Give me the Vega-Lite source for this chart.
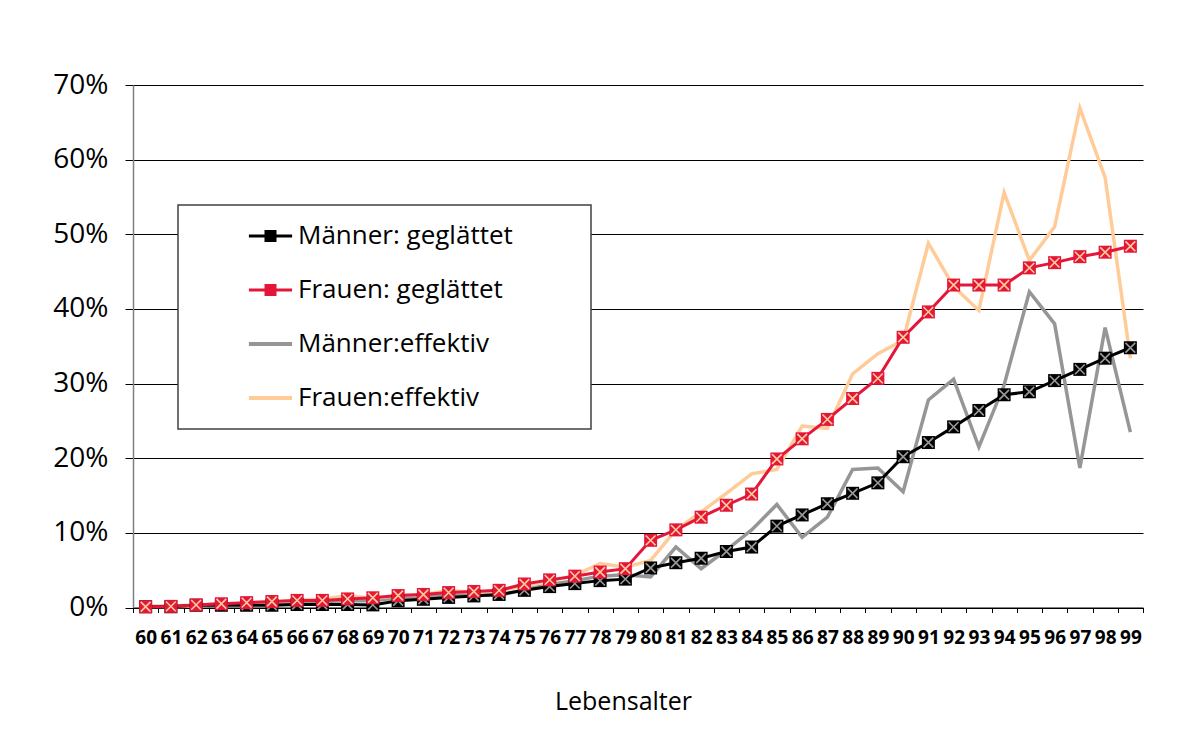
{
  "$schema": "https://vega.github.io/schema/vega-lite/v6.json",
  "width": 1010,
  "height": 522.5,
  "autosize": {"type": "none"},
  "padding": {"left": 133, "top": 85, "right": 51, "bottom": 133},
  "background": "white",
  "config": {
    "view": {"stroke": null},
    "font": "Open Sans"
  },
  "data": {
    "values": [
      {"Lebensalter": 60, "Männer: geglättet": 0.1, "Frauen: geglättet": 0.1, "Männer:effektiv": 0.1, "Frauen:effektiv": 0.2},
      {"Lebensalter": 61, "Männer: geglättet": 0.1, "Frauen: geglättet": 0.15, "Männer:effektiv": 0.2, "Frauen:effektiv": 0.1},
      {"Lebensalter": 62, "Männer: geglättet": 0.3, "Frauen: geglättet": 0.35, "Männer:effektiv": 0.3, "Frauen:effektiv": 0.2},
      {"Lebensalter": 63, "Männer: geglättet": 0.3, "Frauen: geglättet": 0.5, "Männer:effektiv": 0.5, "Frauen:effektiv": 0.4},
      {"Lebensalter": 64, "Männer: geglättet": 0.3, "Frauen: geglättet": 0.65, "Männer:effektiv": 0.5, "Frauen:effektiv": 0.6},
      {"Lebensalter": 65, "Männer: geglättet": 0.3, "Frauen: geglättet": 0.8, "Männer:effektiv": 0.6, "Frauen:effektiv": 0.7},
      {"Lebensalter": 66, "Männer: geglättet": 0.4, "Frauen: geglättet": 0.95, "Männer:effektiv": 0.6, "Frauen:effektiv": 1.0},
      {"Lebensalter": 67, "Männer: geglättet": 0.4, "Frauen: geglättet": 0.95, "Männer:effektiv": 0.8, "Frauen:effektiv": 1.1},
      {"Lebensalter": 68, "Männer: geglättet": 0.4, "Frauen: geglättet": 1.15, "Männer:effektiv": 0.9, "Frauen:effektiv": 1.6},
      {"Lebensalter": 69, "Männer: geglättet": 0.35, "Frauen: geglättet": 1.3, "Männer:effektiv": 0.9, "Frauen:effektiv": 1.2},
      {"Lebensalter": 70, "Männer: geglättet": 0.9, "Frauen: geglättet": 1.6, "Männer:effektiv": 1.3, "Frauen:effektiv": 1.6},
      {"Lebensalter": 71, "Männer: geglättet": 1.1, "Frauen: geglättet": 1.75, "Männer:effektiv": 1.4, "Frauen:effektiv": 1.7},
      {"Lebensalter": 72, "Männer: geglättet": 1.35, "Frauen: geglättet": 2.0, "Männer:effektiv": 1.6, "Frauen:effektiv": 2.3},
      {"Lebensalter": 73, "Männer: geglättet": 1.55, "Frauen: geglättet": 2.15, "Männer:effektiv": 1.7, "Frauen:effektiv": 2.0},
      {"Lebensalter": 74, "Männer: geglättet": 1.75, "Frauen: geglättet": 2.3, "Männer:effektiv": 1.6, "Frauen:effektiv": 2.2},
      {"Lebensalter": 75, "Männer: geglättet": 2.3, "Frauen: geglättet": 3.15, "Männer:effektiv": 2.4, "Frauen:effektiv": 2.9},
      {"Lebensalter": 76, "Männer: geglättet": 2.8, "Frauen: geglättet": 3.7, "Männer:effektiv": 3.1, "Frauen:effektiv": 3.5},
      {"Lebensalter": 77, "Männer: geglättet": 3.2, "Frauen: geglättet": 4.2, "Männer:effektiv": 3.6, "Frauen:effektiv": 4.3},
      {"Lebensalter": 78, "Männer: geglättet": 3.6, "Frauen: geglättet": 4.75, "Männer:effektiv": 4.2, "Frauen:effektiv": 5.9},
      {"Lebensalter": 79, "Männer: geglättet": 3.8, "Frauen: geglättet": 5.2, "Männer:effektiv": 4.4, "Frauen:effektiv": 5.4},
      {"Lebensalter": 80, "Männer: geglättet": 5.3, "Frauen: geglättet": 9.0, "Männer:effektiv": 4.1, "Frauen:effektiv": 6.3},
      {"Lebensalter": 81, "Männer: geglättet": 6.0, "Frauen: geglättet": 10.4, "Männer:effektiv": 8.1, "Frauen:effektiv": 10.4},
      {"Lebensalter": 82, "Männer: geglättet": 6.6, "Frauen: geglättet": 12.1, "Männer:effektiv": 5.2, "Frauen:effektiv": 12.8},
      {"Lebensalter": 83, "Männer: geglättet": 7.5, "Frauen: geglättet": 13.7, "Männer:effektiv": 7.7, "Frauen:effektiv": 15.3},
      {"Lebensalter": 84, "Männer: geglättet": 8.1, "Frauen: geglättet": 15.2, "Männer:effektiv": 10.4, "Frauen:effektiv": 17.9},
      {"Lebensalter": 85, "Männer: geglättet": 10.9, "Frauen: geglättet": 19.9, "Männer:effektiv": 13.8, "Frauen:effektiv": 18.5},
      {"Lebensalter": 86, "Männer: geglättet": 12.4, "Frauen: geglättet": 22.6, "Männer:effektiv": 9.4, "Frauen:effektiv": 24.3},
      {"Lebensalter": 87, "Männer: geglättet": 13.9, "Frauen: geglättet": 25.2, "Männer:effektiv": 12.1, "Frauen:effektiv": 24.0},
      {"Lebensalter": 88, "Männer: geglättet": 15.3, "Frauen: geglättet": 28.0, "Männer:effektiv": 18.5, "Frauen:effektiv": 31.3},
      {"Lebensalter": 89, "Männer: geglättet": 16.7, "Frauen: geglättet": 30.7, "Männer:effektiv": 18.7, "Frauen:effektiv": 34.0},
      {"Lebensalter": 90, "Männer: geglättet": 20.2, "Frauen: geglättet": 36.2, "Männer:effektiv": 15.5, "Frauen:effektiv": 35.8},
      {"Lebensalter": 91, "Männer: geglättet": 22.1, "Frauen: geglättet": 39.6, "Männer:effektiv": 27.8, "Frauen:effektiv": 48.8},
      {"Lebensalter": 92, "Männer: geglättet": 24.2, "Frauen: geglättet": 43.2, "Männer:effektiv": 30.6, "Frauen:effektiv": 43.0},
      {"Lebensalter": 93, "Männer: geglättet": 26.4, "Frauen: geglättet": 43.2, "Männer:effektiv": 21.5, "Frauen:effektiv": 39.8},
      {"Lebensalter": 94, "Männer: geglättet": 28.5, "Frauen: geglättet": 43.2, "Männer:effektiv": 29.8, "Frauen:effektiv": 55.6},
      {"Lebensalter": 95, "Männer: geglättet": 28.9, "Frauen: geglättet": 45.5, "Männer:effektiv": 42.3, "Frauen:effektiv": 46.5},
      {"Lebensalter": 96, "Männer: geglättet": 30.4, "Frauen: geglättet": 46.2, "Männer:effektiv": 38.0, "Frauen:effektiv": 51.0},
      {"Lebensalter": 97, "Männer: geglättet": 31.9, "Frauen: geglättet": 47.0, "Männer:effektiv": 18.7, "Frauen:effektiv": 66.9},
      {"Lebensalter": 98, "Männer: geglättet": 33.4, "Frauen: geglättet": 47.6, "Männer:effektiv": 37.5, "Frauen:effektiv": 57.6},
      {"Lebensalter": 99, "Männer: geglättet": 34.8, "Frauen: geglättet": 48.4, "Männer:effektiv": 23.5, "Frauen:effektiv": 33.4}
    ]
  },
  "transform": [
    {"fold": ["Männer: geglättet", "Frauen: geglättet", "Männer:effektiv", "Frauen:effektiv"], "as": ["Serie", "Wert"]}
  ],
  "encoding": {
    "x": {
      "field": "Lebensalter",
      "type": "ordinal",
      "scale": {"paddingInner": 0, "paddingOuter": 0},
      "axis": {
        "title": "Lebensalter",
        "labelAngle": 0,
        "tickBand": "extent",
        "labelFont": "Open Sans",
        "labelFontWeight": "bold",
        "labelFontSize": 19,
        "labelColor": "#000000",
        "labelPadding": 16,
        "tickColor": "#000000",
        "tickSize": 5,
        "domainColor": "#000000",
        "domainWidth": 1,
        "grid": false,
        "titleFont": "Open Sans",
        "titleFontSize": 25,
        "titleFontWeight": "normal",
        "titleColor": "#000000",
        "titlePadding": 42,
        "titleX": 490
      }
    },
    "y": {
      "field": "Wert",
      "type": "quantitative",
      "scale": {"domain": [0, 70], "nice": false, "zero": true},
      "axis": {
        "title": null,
        "values": [0, 10, 20, 30, 40, 50, 60, 70],
        "labelExpr": "datum.value + '%'",
        "labelFont": "Open Sans",
        "labelFontSize": 28,
        "labelColor": "#000000",
        "labelPadding": 17,
        "tickSize": 8,
        "tickColor": "#000000",
        "grid": true,
        "gridColor": "#000000",
        "gridWidth": 1,
        "domainColor": "#808080",
        "domainWidth": 1.5
      }
    }
  },
  "layer": [
    {
      "transform": [{"filter": {"field": "Serie", "oneOf": ["Männer:effektiv", "Frauen:effektiv"]}}],
      "mark": {"type": "line", "strokeWidth": 3.5},
      "encoding": {
        "color": {
          "field": "Serie",
          "type": "nominal",
          "scale": {
            "domain": ["Männer: geglättet", "Frauen: geglättet", "Männer:effektiv", "Frauen:effektiv"],
            "range": ["#000000", "#E3173A", "#969696", "#FFCC99"]
          },
          "legend": {
            "orient": "none",
            "legendX": 45,
            "legendY": 120,
            "title": " ",
            "titleOrient": "right",
            "titlePadding": 60,
            "titleFontSize": 8,
            "labelFont": "Open Sans",
            "labelFontSize": 26,
            "labelColor": "#000000",
            "labelLimit": 500,
            "symbolSize": 81,
            "symbolStrokeWidth": 3,
            "symbolOffset": 61.5,
            "labelOffset": 14.5,
            "rowPadding": 28,
            "padding": 18,
            "strokeColor": "#404040",
            "fillColor": "#ffffff",
            "encode": {
              "legend": {"update": {"strokeWidth": {"value": 1.5}}},
              "symbols": {
                "update": {
                  "shape": {"signal": "indexof(['Männer: geglättet','Frauen: geglättet'], datum.value) >= 0 ? 'M-4.8,0H4.8M-1,-1H1V1H-1Z' : 'M-4.8,0H4.8'"},
                  "fill": {"scale": "color", "field": "value"},
                  "stroke": {"scale": "color", "field": "value"},
                  "strokeWidth": {"signal": "indexof(['Männer: geglättet','Frauen: geglättet'], datum.value) >= 0 ? 3 : 4"},
                  "opacity": {"value": 1}
                }
              }
            }
          }
        }
      }
    },
    {
      "transform": [{"filter": {"field": "Serie", "oneOf": ["Männer: geglättet", "Frauen: geglättet"]}}],
      "mark": {"type": "line", "strokeWidth": 3},
      "encoding": {
        "color": {"field": "Serie", "type": "nominal"}
      }
    },
    {
      "transform": [{"filter": {"field": "Serie", "equal": "Männer: geglättet"}}],
      "mark": {"type": "point", "shape": "square", "filled": true, "size": 169, "opacity": 1},
      "encoding": {
        "color": {"field": "Serie", "type": "nominal"}
      }
    },
    {
      "transform": [{"filter": {"field": "Serie", "equal": "Männer: geglättet"}}],
      "mark": {"type": "point", "shape": "M-0.75,-0.75L0.75,0.75M0.75,-0.75L-0.75,0.75", "filled": false, "stroke": "#999999", "strokeWidth": 1.6, "size": 169, "opacity": 1},
      "encoding": {}
    },
    {
      "transform": [{"filter": {"field": "Serie", "equal": "Frauen: geglättet"}}],
      "mark": {"type": "point", "shape": "square", "filled": true, "size": 169, "opacity": 1},
      "encoding": {
        "color": {"field": "Serie", "type": "nominal"}
      }
    },
    {
      "transform": [{"filter": {"field": "Serie", "equal": "Frauen: geglättet"}}],
      "mark": {"type": "point", "shape": "M-0.75,-0.75L0.75,0.75M0.75,-0.75L-0.75,0.75", "filled": false, "stroke": "#FFCC99", "strokeWidth": 1.6, "size": 169, "opacity": 1},
      "encoding": {}
    }
  ]
}
